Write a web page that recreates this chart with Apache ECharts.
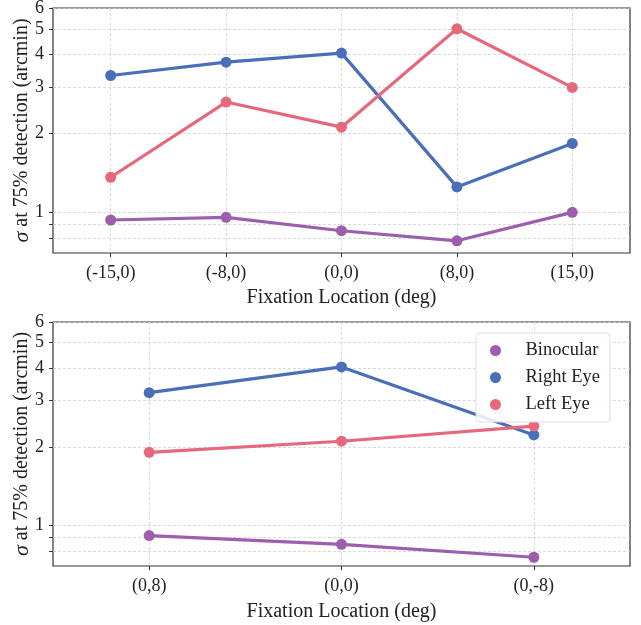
<!DOCTYPE html>
<html>
<head>
<meta charset="utf-8">
<script src="https://cdn.jsdelivr.net/npm/echarts@6/dist/echarts.min.js"></script>
<style>
  html, body { margin: 0; padding: 0; background: #fff; }
  #chart { width: 641px; height: 625px; }
</style>
</head>
<body>
<div id="chart"></div>
<script>
// horizontal fixation (top panel)
const topCats = ['(-15,0)', '(-8,0)', '(0,0)', '(8,0)', '(15,0)'];
const topBinocular = [0.935, 0.957, 0.851, 0.779, 1.0];
const topRightEye = [3.32, 3.73, 4.04, 1.25, 1.83];
const topLeftEye = [1.36, 2.63, 2.11, 5.0, 2.99];

// vertical fixation (bottom panel)
const botCats = ['(0,8)', '(0,0)', '(0,-8)'];
const botBinocular = [0.915, 0.847, 0.756];
const botRightEye = [3.22, 4.04, 2.22];
const botLeftEye = [1.905, 2.10, 2.40];

// y ticks
const yLabels = [1, 2, 3, 4, 5, 6];
const yTicks = [0.8, 0.9, 1, 2, 3, 4, 5, 6];

const colors = { 'Binocular': '#9b5fae', 'Right Eye': '#4a6fb8', 'Left Eye': '#e5687c' };
const font = '"Liberation Serif", "DejaVu Serif", serif';
const gridLine = { show: true, lineStyle: { color: '#cfcfcf', width: 0.8, type: [3, 2] } };

function pairs(vals) {
  return vals.map((v, i) => [i, v]);
}

function xAxis(idx, cats, gap) {
  const ids = cats.map((c, i) => i);
  return {
    type: 'value', gridIndex: idx, min: -0.5, max: cats.length - 0.5,
    name: 'Fixation Location (deg)', nameLocation: 'middle', nameGap: gap, nameMoveOverlap: false,
    nameTextStyle: { fontFamily: font, fontSize: 20, color: '#222' },
    axisLine: { show: false, onZero: false },
    axisTick: { show: true, length: 4, customValues: ids, lineStyle: { color: '#333' } },
    axisLabel: { customValues: ids, margin: 11, fontFamily: font, fontSize: 18, color: '#222',
      formatter: v => cats[Math.round(v)] },
    splitLine: gridLine
  };
}

function yAxis(idx) {
  return {
    type: 'log', logBase: 10, gridIndex: idx, min: 0.7, max: 6,
    name: '{i|σ} at 75% detection (arcmin)', nameLocation: 'middle', nameGap: 20, nameRotate: 90,
    nameMoveOverlap: false,
    nameTextStyle: { fontFamily: font, fontSize: 20, color: '#222',
      rich: { i: { fontFamily: font, fontSize: 22, fontStyle: 'italic', color: '#222' } } },
    axisLine: { show: false, onZero: false },
    axisTick: { show: true, length: 4, customValues: yTicks, lineStyle: { color: '#333' } },
    axisLabel: { customValues: yLabels, margin: 9, fontFamily: font, fontSize: 18, color: '#222',
      showMinLabel: true, showMaxLabel: true },
    splitLine: gridLine
  };
}

function line(name, vals, idx) {
  return {
    name: name, type: 'line', xAxisIndex: idx, yAxisIndex: idx,
    data: pairs(vals), symbol: 'circle', symbolSize: 11,
    lineStyle: { width: 3.2, color: colors[name] },
    itemStyle: { color: colors[name] },
    emphasis: { disabled: true }
  };
}

const chart = echarts.init(document.getElementById('chart'));
chart.setOption({
  animation: false,
  grid: [
    { left: 53, top: 8, width: 577, height: 245, show: true, borderColor: '#333', borderWidth: 1.2,
      containLabel: false, outerBoundsMode: 'none' },
    { left: 53, top: 322, width: 577, height: 244, show: true, borderColor: '#333', borderWidth: 1.2,
      containLabel: false, outerBoundsMode: 'none' }
  ],
  legend: {
    orient: 'vertical', left: 476, top: 333,
    padding: [8, 10, 8, 14], itemGap: 8,
    itemWidth: 26, itemHeight: 11, icon: 'circle',
    backgroundColor: 'rgba(255,255,255,0.85)', borderColor: '#dddddd', borderWidth: 1, borderRadius: 4,
    textStyle: { fontFamily: font, fontSize: 18.5, color: '#222', padding: [0, 0, 0, 12] },
    data: ['Binocular', 'Right Eye', 'Left Eye']
  },
  xAxis: [xAxis(0, topCats, 35), xAxis(1, botCats, 36)],
  yAxis: [yAxis(0), yAxis(1)],
  series: [
    line('Binocular', topBinocular, 0),
    line('Right Eye', topRightEye, 0),
    line('Left Eye', topLeftEye, 0),
    line('Binocular', botBinocular, 1),
    line('Right Eye', botRightEye, 1),
    line('Left Eye', botLeftEye, 1)
  ]
});
</script>
</body>
</html>
